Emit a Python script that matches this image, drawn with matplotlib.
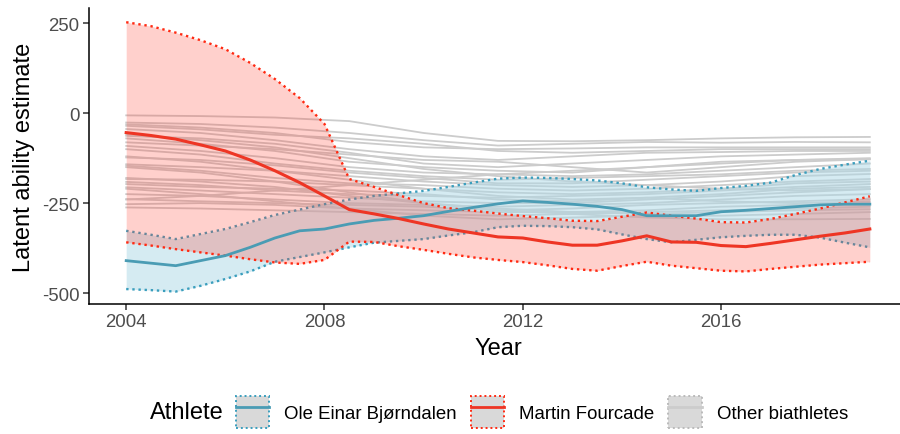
import numpy as np
import matplotlib.pyplot as plt
from matplotlib.patches import Patch
from matplotlib.lines import Line2D

plt.rcParams['font.family'] = ['Liberation Sans', 'DejaVu Sans']

# --- dane ---
years = np.arange(2004, 2019.01, 0.5)

fourcade = [-54, -62, -72, -88, -105, -130, -160, -193, -230, -268, -280, -293, -308, -322,
            -333, -344, -347, -358, -367, -367, -355, -341, -358, -359, -368, -371, -362,
            -352, -342, -333, -322]
fourcade_hi = [253, 242, 224, 203, 178, 140, 95, 42, -30, -183, -205, -228, -250, -264,
               -271, -279, -286, -292, -299, -300, -288, -276, -285, -293, -303, -304, -294,
               -280, -265, -248, -231]
fourcade_lo = [-359, -368, -378, -387, -396, -406, -415, -419, -408, -357, -358, -370, -380,
               -391, -401, -408, -414, -423, -433, -438, -425, -413, -424, -431, -438, -440,
               -433, -427, -421, -417, -413]

bjorndalen = [-410, -417, -424, -410, -396, -373, -347, -327, -322, -308, -298, -292, -285,
              -273, -262, -252, -244, -248, -253, -259, -268, -285, -285, -285, -274, -270,
              -265, -260, -255, -253, -253]
bjorndalen_hi = [-327, -338, -350, -336, -322, -303, -283, -268, -253, -240, -230, -223, -216,
                 -205, -193, -182, -179, -180, -183, -187, -195, -206, -212, -216, -208, -202,
                 -193, -172, -155, -143, -132]
bjorndalen_lo = [-489, -492, -496, -480, -461, -440, -413, -400, -387, -373, -360, -355, -350,
                 -340, -331, -317, -313, -314, -317, -323, -337, -350, -359, -352, -345, -341,
                 -338, -338, -346, -360, -373]

# pozostali biathloniści
years_other = [2004, 2005.5, 2007, 2008.5, 2010, 2011.5, 2013, 2014.5, 2016, 2017.5, 2019]
others = [
    [-6, -8, -12, -22, -55, -77, -78, -75, -70, -67, -66],
    [-26, -30, -40, -55, -75, -90, -85, -80, -82, -80, -81],
    [-31, -40, -55, -80, -95, -100, -98, -95, -95, -95, -95],
    [-35, -45, -60, -70, -85, -105, -110, -105, -100, -100, -100],
    [-44, -55, -75, -100, -120, -130, -120, -110, -108, -105, -105],
    [-63, -70, -85, -110, -140, -150, -140, -130, -120, -115, -110],
    [-70, -85, -105, -135, -150, -160, -165, -150, -135, -130, -125],
    [-81, -90, -100, -115, -130, -135, -150, -165, -150, -135, -128],
    [-91, -105, -125, -150, -165, -170, -175, -170, -160, -150, -140],
    [-100, -115, -140, -160, -175, -185, -180, -175, -170, -160, -155],
    [-123, -130, -145, -165, -180, -195, -195, -185, -175, -165, -160],
    [-142, -150, -160, -175, -190, -200, -205, -200, -190, -175, -169],
    [-146, -160, -180, -195, -200, -210, -215, -210, -200, -190, -183],
    [-183, -185, -190, -200, -210, -220, -225, -220, -210, -195, -190],
    [-191, -200, -215, -225, -230, -235, -230, -225, -215, -205, -197],
    [-197, -205, -210, -215, -225, -240, -245, -235, -225, -210, -205],
    [-206, -215, -225, -235, -245, -250, -250, -240, -230, -220, -211],
    [-225, -230, -240, -250, -255, -260, -255, -250, -240, -230, -225],
    [-239, -245, -250, -255, -260, -270, -265, -255, -250, -245, -239],
    [-253, -250, -255, -265, -270, -275, -275, -270, -260, -255, -250],
    [-262, -265, -270, -275, -280, -285, -280, -275, -270, -265, -260],
    [-180, -190, -205, -230, -250, -265, -275, -280, -275, -270, -267],
    [-210, -225, -245, -265, -285, -295, -290, -285, -285, -280, -275],
    [-150, -165, -190, -220, -250, -270, -280, -290, -295, -295, -294],
    [-240, -230, -215, -200, -185, -170, -160, -150, -140, -130, -128],
    [-120, -135, -160, -185, -210, -230, -240, -235, -245, -250, -245],
    [-60, -75, -95, -125, -155, -175, -190, -200, -210, -215, -211],
]

x_ticks = [2004, 2008, 2012, 2016]
y_ticks = [250, 0, -250, -500]

# kolory
c_blue = '#4A9CB4'
c_blue_dot = '#3A9EBD'
c_red = '#EE3524'
c_red_dot = '#FF2A12'
c_grey = '#CCCCCC'

fig = plt.figure(figsize=(9, 4.35), dpi=100)
ax = fig.add_axes([89/900, 130.3/435, 818/900, 295.4/435])

for o in others:
    ax.plot(years_other, o, color=c_grey, lw=1.3, zorder=1)

dot = (0, (1, 1.6))
ax.fill_between(years, bjorndalen_lo, bjorndalen_hi, color='#ADD8E6', alpha=0.5, lw=0, zorder=2)
ax.plot(years, bjorndalen_hi, color=c_blue_dot, lw=1.7, ls=dot, zorder=2)
ax.plot(years, bjorndalen_lo, color=c_blue_dot, lw=1.7, ls=dot, zorder=2)

ax.fill_between(years, fourcade_lo, fourcade_hi, color='#FF3B2B', alpha=0.24, lw=0, zorder=3)
ax.plot(years, fourcade_hi, color=c_red_dot, lw=1.7, ls=dot, zorder=3)
ax.plot(years, fourcade_lo, color=c_red_dot, lw=1.7, ls=dot, zorder=3)

ax.plot(years, bjorndalen, color=c_blue, lw=2, zorder=4)
ax.plot(years, fourcade, color=c_red, lw=2.2, zorder=5)

# osie w stylu theme_classic
ax.set_xlim(2003.25, 2019.75)
ax.set_ylim(-529.7, 291.7)
ax.set_xticks(x_ticks)
ax.set_yticks(y_ticks)
ax.set_yticklabels([str(v) for v in y_ticks])
for s in ['top', 'right']:
    ax.spines[s].set_visible(False)
for s in ['left', 'bottom']:
    ax.spines[s].set_linewidth(1.1)
ax.tick_params(length=4, width=1.1, color='#333333', labelcolor='#4D4D4D',
               labelsize=13.4, pad=3)

ax.set_xlabel('Year', fontsize=17, va='center')
ax.xaxis.set_label_coords(0.5, -0.15)
ax.set_ylabel('Latent ability estimate', fontsize=17, va='center')
ax.yaxis.set_label_coords(-0.0795, 0.5)

# legenda
def key(edge, line):
    box = Patch(facecolor='#D9D9D9', edgecolor=edge, linestyle=(0, (1, 1.5)), lw=1.4)
    ln = Line2D([], [], color=line, lw=2)
    return (box, ln)

handles = [key(c_blue_dot, c_blue), key(c_red_dot, c_red), key('#BBBBBB', c_grey)]
labels = ['Ole Einar Bjørndalen', 'Martin Fourcade', 'Other biathletes']
fig.legend(handles, labels, ncol=3, loc='center', bbox_to_anchor=(542/900, 1 - 413/435),
           frameon=False, fontsize=13.4, handlelength=1.8, handleheight=2.3,
           handletextpad=0.8, columnspacing=0.75, borderaxespad=0)
fig.text(150/900, 1 - 413/435, 'Athlete', fontsize=17, va='center', ha='left')

plt.savefig('out.png', dpi=100)
